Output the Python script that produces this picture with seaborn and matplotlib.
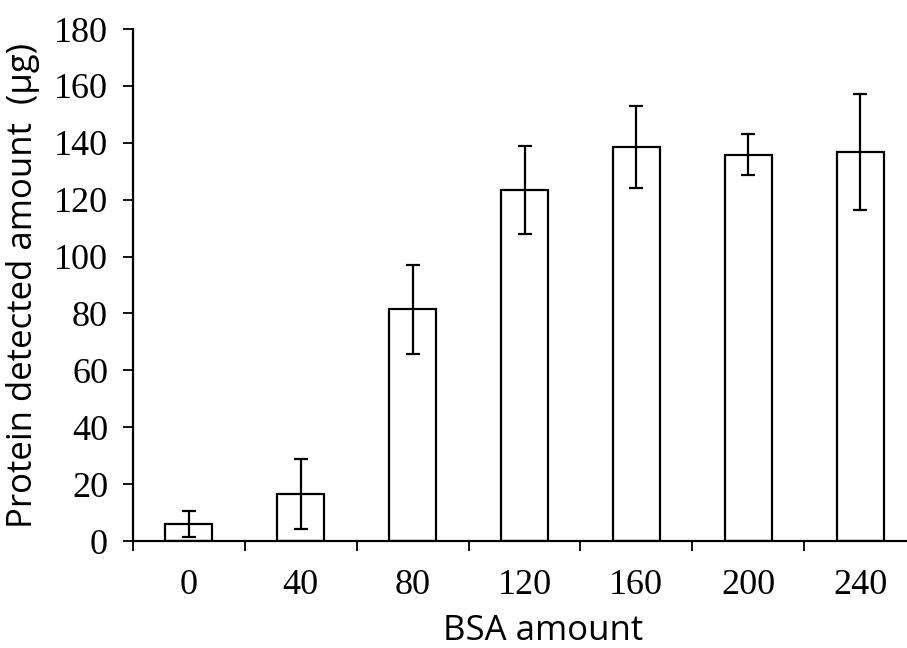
import numpy as np
import pandas as pd
import matplotlib
matplotlib.use("Agg")
import matplotlib.pyplot as plt
import seaborn as sns

# Data
bsa_amount = ["0", "40", "80", "120", "160", "200", "240"]
protein_detected = [6, 16.5, 81.5, 123.5, 138.5, 135.8, 136.8]
error = [4.5, 12.3, 15.6, 15.5, 14.5, 7.2, 20.4]
y_ticks = [0, 20, 40, 60, 80, 100, 120, 140, 160, 180]

df = pd.DataFrame({"bsa": bsa_amount, "protein": protein_detected, "err": error})

sns.set_style("white")
plt.rcParams["font.family"] = ["Open Sans", "DejaVu Sans"]
plt.rcParams["text.color"] = "black"
plt.rcParams["axes.labelcolor"] = "black"
plt.rcParams["xtick.color"] = "black"
plt.rcParams["ytick.color"] = "black"

fig = plt.figure(figsize=(9.07, 6.48), dpi=100)
ax = fig.add_axes([133 / 907, 1 - 541 / 648, (916 - 133) / 907, (541 - 29) / 648])

sns.barplot(data=df, x="bsa", y="protein", color="white", edgecolor="black",
            linewidth=1.6, width=0.42, errorbar=None, ax=ax)
ax.errorbar(np.arange(len(bsa_amount)), df["protein"], yerr=df["err"],
            fmt="none", ecolor="black", elinewidth=1.6, capsize=5, capthick=1.6)

ax.set_xlim(-0.5, len(bsa_amount) - 0.5)
ax.set_ylim(0, 180)
ax.set_yticks(y_ticks)
ax.set_yticklabels([str(v) for v in y_ticks], family=["Liberation Serif"], fontsize=26)

# tick marks between categories, labels at category centres
ax.set_xticks(np.arange(-0.5, len(bsa_amount), 1.0))
ax.set_xticklabels([])
ax.set_xticks(np.arange(len(bsa_amount)), minor=True)
ax.set_xticklabels(bsa_amount, minor=True, family=["Liberation Serif"], fontsize=26)
ax.tick_params(axis="x", which="minor", bottom=True, length=0, pad=20)
ax.tick_params(axis="x", which="major", bottom=True, direction="out", length=7, width=1.3)
ax.tick_params(axis="y", left=True, direction="out", length=7, width=1.3, pad=11)

for side in ["top", "right"]:
    ax.spines[side].set_visible(False)
for side in ["left", "bottom"]:
    ax.spines[side].set_color("black")
    ax.spines[side].set_linewidth(1.6)

ax.set_xlabel("BSA amount", fontsize=25)
ax.xaxis.set_label_coords(0.524, -0.142)
ax.set_ylabel("Protein detected amount  (\u03bcg)", fontsize=25, labelpad=10)

fig.savefig("out.png", dpi=100)
